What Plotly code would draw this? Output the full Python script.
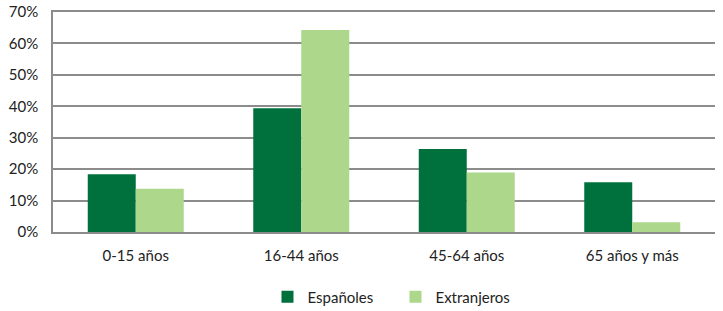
import plotly.graph_objects as go

categories = ["0-15 años", "16-44 años", "45-64 años", "65 años y más"]
espanoles = [18.4, 39.4, 26.4, 15.8]
extranjeros = [13.8, 64.3, 18.9, 3.1]
y_ticks = [0, 10, 20, 30, 40, 50, 60, 70]
y_tick_labels = [f"{v}%" for v in y_ticks]

fig = go.Figure()
fig.add_bar(x=categories, y=espanoles, name="Españoles",
            marker=dict(color="#00703C", line=dict(width=0)))
fig.add_bar(x=categories, y=extranjeros, name="Extranjeros",
            marker=dict(color="#ADD78A", line=dict(width=0)))

fig.update_layout(
    width=723, height=311,
    margin=dict(l=53, r=8, t=12, b=79, autoexpand=False),
    paper_bgcolor="white", plot_bgcolor="white",
    barmode="group", bargap=0.42, bargroupgap=0,
    font=dict(family="Lato, Open Sans, sans-serif", size=15, color="#222"),
    legend=dict(orientation="h", x=0.324, xanchor="left", y=-0.295, yanchor="middle",
                font=dict(size=15), itemwidth=30, traceorder="normal",
                entrywidth=83),
    showlegend=True,
)
fig.update_yaxes(range=[0, 70], tickvals=y_ticks, ticktext=y_tick_labels,
                 showgrid=True, gridcolor="#8c8c8c", gridwidth=1.5,
                 showline=True, linecolor="#8c8c8c", linewidth=1.5,
                 zeroline=False, ticks="", ticklen=0, automargin=False,
                 ticklabelstandoff=10)
fig.update_xaxes(showline=True, linecolor="#8c8c8c", linewidth=1.5,
                 ticks="", showgrid=False, mirror=True, automargin=False,
                 ticklabelstandoff=9)

fig.write_html("out.html", config={"displayModeBar": False},
               post_script="document.body.style.margin='0';")
